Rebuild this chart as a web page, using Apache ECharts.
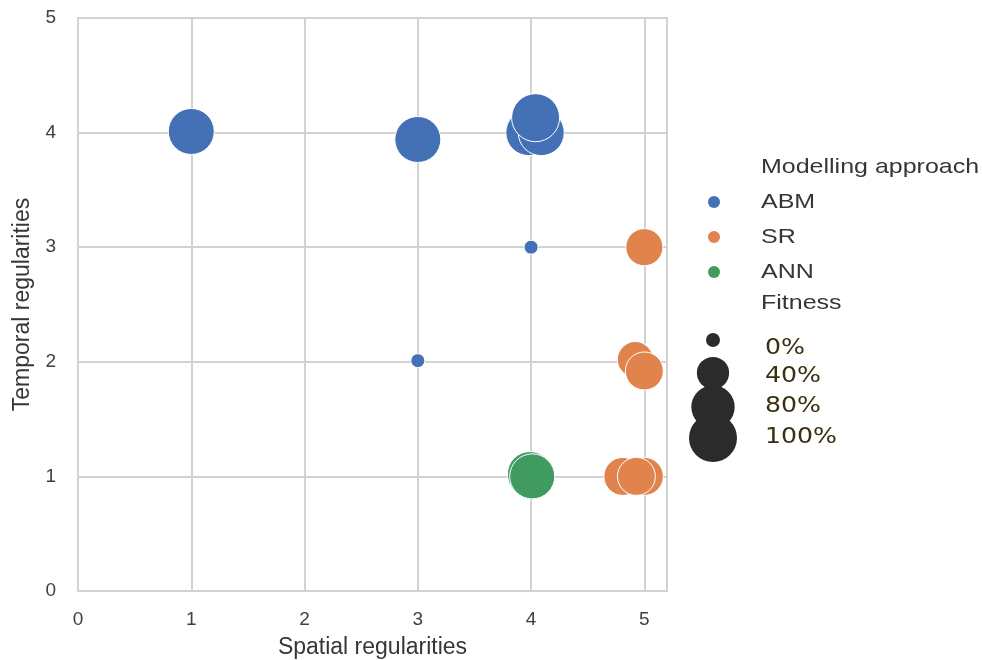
<!DOCTYPE html>
<html><head><meta charset="utf-8">
<script src="https://cdn.jsdelivr.net/npm/echarts@6/dist/echarts.min.js"></script>
<style>html,body{margin:0;padding:0;background:#fff}#c{width:982px;height:660px}</style>
</head><body><div id="c"></div>
<script>
// ---- data ----
const approaches = ['ABM', 'SR', 'ANN'];
const approachColors = ['#4470b5', '#e0834d', '#3f9b5f'];
// ABM
const abmX = [1, 3, 3.98, 4.09, 4.04, 4, 3];
const abmY = [4.01, 3.94, 4.0, 4.0, 4.13, 3.0, 2.01];
const abmFit = [0.91, 0.91, 0.91, 0.91, 1.0, 0, 0];
// SR
const srX = [5, 4.92, 5.0, 4.81, 5.0, 4.93];
const srY = [3.0, 2.02, 1.92, 1.0, 1.0, 1.0];
const srFit = [0.56, 0.52, 0.59, 0.59, 0.59, 0.59];
// ANN
const annX = [3.99, 4.01];
const annY = [1.02, 1.0];
const annFit = [0.87, 0.87];
// size legend
const fitnessLevels = [0, 0.4, 0.8, 1.0];
const fitnessLabels = ['0%', '40%', '80%', '100%'];
const xTickValues = [0, 1, 2, 3, 4, 5];
const yTickValues = [0, 1, 2, 3, 4, 5];

const xs = [abmX, srX, annX], ys = [abmY, srY, annY], fs = [abmFit, srFit, annFit];
const sizeFn = f => Math.sqrt(196 + f * 2108);

const chart = echarts.init(document.getElementById('c'), null, {renderer: 'canvas'});
const FONT = 'Liberation Sans, Arial, sans-serif';
const gridColor = '#d2d2d2';

const series = approaches.map((name, k) => ({
  name, type: 'scatter',
  data: xs[k].map((x, i) => [x, ys[k][i], fs[k][i]]),
  symbolSize: d => sizeFn(d[2]),
  itemStyle: {color: approachColors[k], borderColor: '#ffffff', borderWidth: 1, opacity: 1},
  emphasis: {disabled: true},
  z: 3
}));

// legend graphics
const g = [];
const txt = (x, y, text, size, fill, family, sx) => ({
  type: 'text', x, y, scaleX: sx || 1.19,
  style: {text, fontSize: size, fontFamily: family || FONT, fill, align: 'left', verticalAlign: 'middle'}
});
g.push(txt(761, 167, 'Modelling approach', 21, '#363636'));
const itemY = [202, 237, 272];
approaches.forEach((a, k) => {
  g.push({type: 'circle', shape: {cx: 714, cy: itemY[k], r: 6}, style: {fill: approachColors[k]}});
  g.push(txt(761, itemY[k], a, 21, '#363636'));
});
g.push(txt(761, 303, 'Fitness', 21, '#363636'));
const circY = [340, 373, 407, 438];
const labY = [349, 377, 407, 438];
fitnessLevels.forEach((f, i) => {
  g.push({type: 'circle', shape: {cx: 713, cy: circY[i], r: sizeFn(f) / 2}, style: {fill: '#2b2b2b'}});
  g.push(txt(765, labY[i], fitnessLabels[i], 21, '#3a3010', 'DejaVu Sans, sans-serif', 1.2));
});

chart.setOption({
  animation: false,
  backgroundColor: '#ffffff',
  grid: {left: 78, right: 315, top: 18, bottom: 69, show: true, borderColor: gridColor, borderWidth: 2,
    containLabel: false, outerBoundsMode: 'none'},
  xAxis: {
    type: 'value', min: 0, max: 5.2, interval: 1,
    name: 'Spatial regularities', nameLocation: 'middle', nameGap: 45,
    nameTextStyle: {fontSize: 23, fontFamily: FONT, color: '#363636'},
    axisLine: {show: false}, axisTick: {show: false},
    axisLabel: {fontSize: 19, fontFamily: FONT, color: '#404040', margin: 19, showMaxLabel: false,
      formatter: v => (xTickValues.includes(v) ? String(v) : '')},
    splitLine: {show: true, lineStyle: {color: gridColor, width: 2}}
  },
  yAxis: {
    type: 'value', min: 0, max: 5, interval: 1,
    name: 'Temporal regularities', nameLocation: 'middle', nameGap: 44,
    nameTextStyle: {fontSize: 23, fontFamily: FONT, color: '#363636'},
    axisLine: {show: false}, axisTick: {show: false},
    axisLabel: {fontSize: 19, fontFamily: FONT, color: '#404040', margin: 22,
      formatter: v => (yTickValues.includes(v) ? String(v) : '')},
    splitLine: {show: true, lineStyle: {color: gridColor, width: 2}}
  },
  series,
  graphic: g
});
</script></body></html>
